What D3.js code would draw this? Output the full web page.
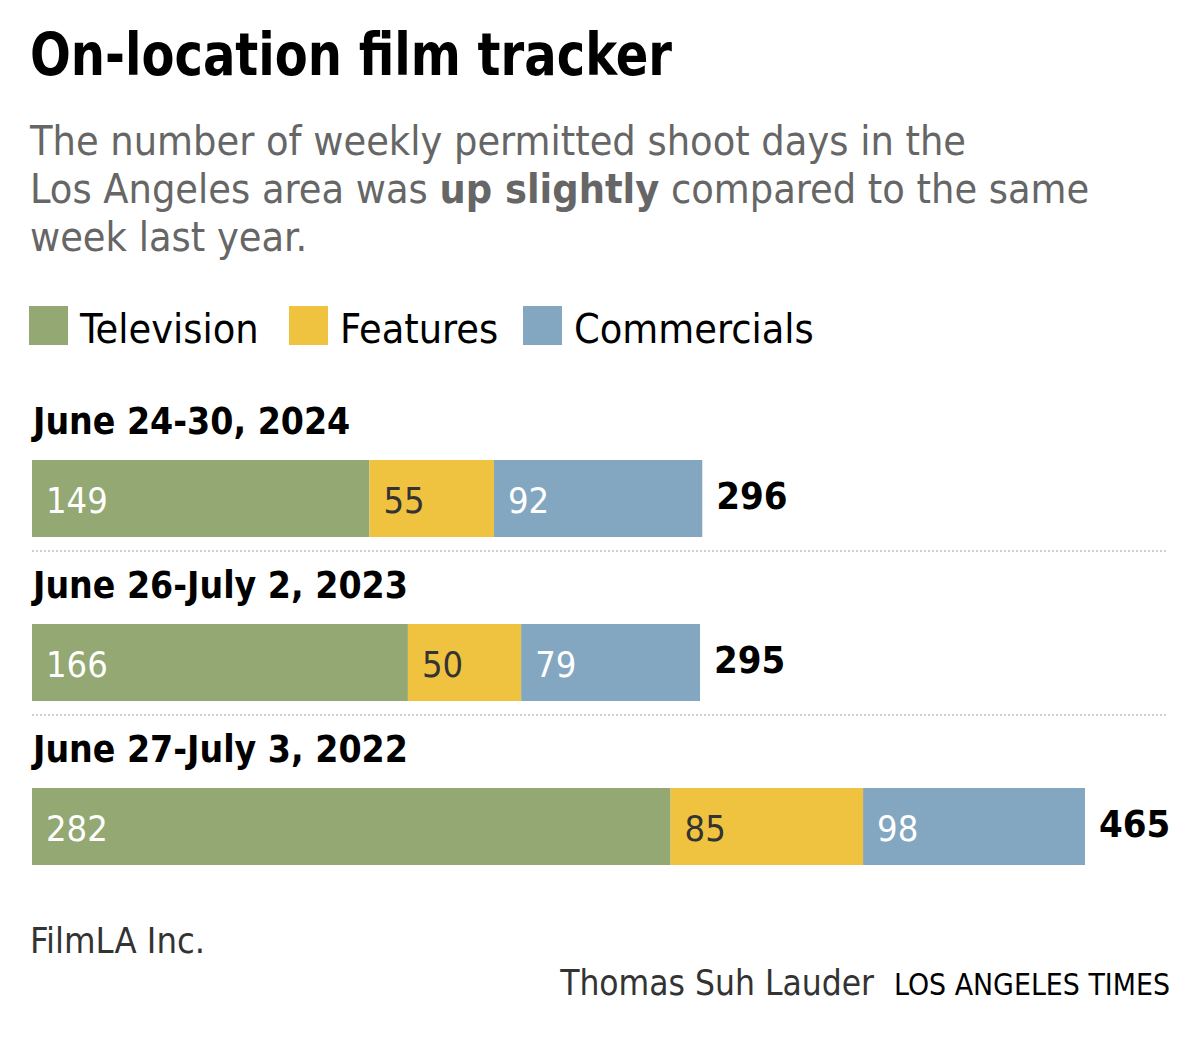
<!DOCTYPE html>
<html><head><meta charset="utf-8">
<script src="https://cdn.jsdelivr.net/npm/d3@7"></script>
<style>
body{margin:0;background:#fff;}
text{font-family:'DejaVu Sans Condensed','DejaVu Sans',sans-serif;}
</style></head>
<body><div id="chart"></div>
<script>
const weeks = ["June 24-30, 2024", "June 26-July 2, 2023", "June 27-July 3, 2022"];
const seriesNames = ["Television", "Features", "Commercials"];
const television = [149, 166, 282];
const features = [55, 50, 85];
const commercials = [92, 79, 98];
const colors = ["#93a872", "#efc33f", "#84a7c1"];
const labelColors = ["#ffffff", "#333333", "#ffffff"];

const W = 1200, H = 1037;
const svg = d3.select("#chart").append("svg").attr("width", W).attr("height", H);
svg.append("rect").attr("width", W).attr("height", H).attr("fill", "#fff");

const rows = weeks.map((w, i) => ({week: w, Television: television[i], Features: features[i], Commercials: commercials[i]}));
const stack = d3.stack().keys(seriesNames)(rows);
const totals = rows.map(r => r.Television + r.Features + r.Commercials);

const x = d3.scaleLinear().domain([0, d3.max(totals)]).range([32, 1085]);
const y = d3.scaleBand().domain(weeks).range([460, 865]).paddingInner(0.5305).paddingOuter(0);

// Title
svg.append("text").attr("x", 30).attr("y", 75).attr("font-size", 58).attr("font-weight", 700)
  .attr("textLength", 642).attr("lengthAdjust", "spacingAndGlyphs")
  .attr("fill", "#000").text("On-location film tracker");

const sub = svg.append("text").attr("x", 30).attr("font-size", 41).attr("fill", "#666");
sub.append("tspan").attr("x", 30).attr("y", 155).text("The number of weekly permitted shoot days in the");
const l2 = sub.append("tspan").attr("x", 30).attr("y", 203);
l2.append("tspan").text("Los Angeles area was ");
l2.append("tspan").attr("font-weight", 700).text("up slightly");
l2.append("tspan").text(" compared to the same");
sub.append("tspan").attr("x", 30).attr("y", 251).text("week last year.");

// Legend
const legX = [29, 289, 523];
const leg = svg.append("g");
seriesNames.forEach((s, i) => {
  leg.append("rect").attr("x", legX[i]).attr("y", 306).attr("width", 39).attr("height", 39).attr("fill", colors[i]);
  leg.append("text").attr("x", legX[i] + 51).attr("y", 343).attr("font-size", 41).attr("fill", "#000").text(s);
});

// Groups
weeks.forEach((w, i) => {
  svg.append("text").attr("x", 33).attr("y", y(w) - 26).attr("font-size", 37).attr("font-weight", 700)
    .attr("fill", "#000").text(w);
  if (i < weeks.length - 1) {
    svg.append("line").attr("x1", 32).attr("x2", 1168)
      .attr("y1", y(w) + y.bandwidth() + 14).attr("y2", y(w) + y.bandwidth() + 14)
      .attr("stroke", "#cfcfcf").attr("stroke-width", 2).attr("stroke-dasharray", "2,2");
  }
});

stack.forEach((layer, si) => {
  const g = svg.append("g");
  g.selectAll("rect").data(layer).join("rect")
    .attr("x", d => x(d[0])).attr("width", d => x(d[1]) - x(d[0]))
    .attr("y", d => y(d.data.week)).attr("height", y.bandwidth())
    .attr("fill", colors[si]);
  g.selectAll("text").data(layer).join("text")
    .attr("x", d => x(d[0]) + 14).attr("y", d => y(d.data.week) + 53)
    .attr("font-size", 36).attr("fill", labelColors[si])
    .text(d => d[1] - d[0]);
});

svg.selectAll(".total").data(rows).join("text").attr("class", "total")
  .attr("x", (d, i) => x(totals[i]) + 14).attr("y", d => y(d.week) + 49)
  .attr("font-size", 38).attr("font-weight", 700).attr("fill", "#000")
  .text((d, i) => totals[i]);

// Footer
svg.append("text").attr("x", 30).attr("y", 953).attr("font-size", 36).attr("fill", "#333").text("FilmLA Inc.");
svg.append("text").attr("x", 874).attr("y", 995).attr("text-anchor", "end").attr("font-size", 35)
  .attr("fill", "#333").text("Thomas Suh Lauder");
svg.append("text").attr("x", 1170).attr("y", 995).attr("text-anchor", "end").attr("font-size", 30)
  .attr("textLength", 276).attr("lengthAdjust", "spacingAndGlyphs")
  .attr("fill", "#000").text("LOS ANGELES TIMES");
</script></body></html>
